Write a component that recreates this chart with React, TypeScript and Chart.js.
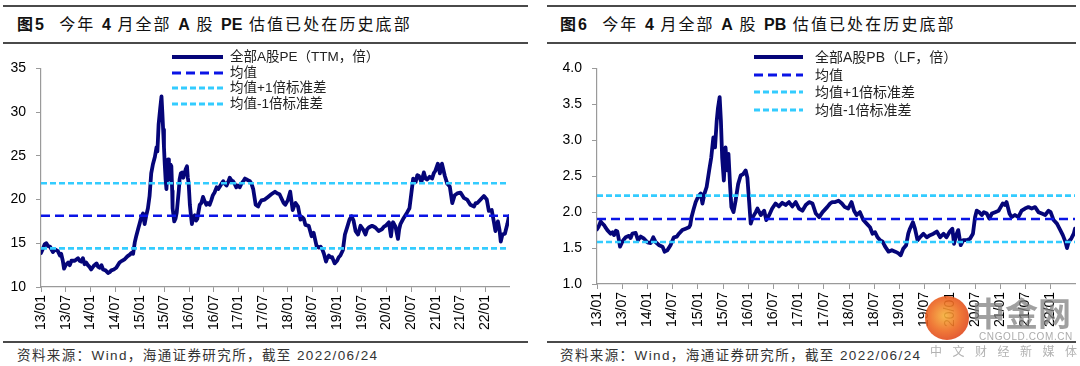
import React, { useEffect, useRef } from "react";
import { Chart, registerables } from "chart.js";

Chart.register(...registerables);

// ---------- DATA ----------
// x values are months since 2013/01
const xTickMonths = [0, 6, 12, 18, 24, 30, 36, 42, 48, 54, 60, 66, 72, 78, 84, 90, 96, 102, 108];
const xTickLabels = [
  "13/01", "13/07", "14/01", "14/07", "15/01", "15/07", "16/01", "16/07", "17/01", "17/07",
  "18/01", "18/07", "19/01", "19/07", "20/01", "20/07", "21/01", "21/07", "22/01",
];
const lastMonth = 113.8; // 2022/06/24

const peTicks = [10, 15, 20, 25, 30, 35];
const pbTicks = [1.0, 1.5, 2.0, 2.5, 3.0, 3.5, 4.0];

const peMean = 18.15;
const peUpper = 21.86;
const peLower = 14.42;

const pbMean = 1.905;
const pbUpper = 2.23;
const pbLower = 1.585;

// [month, PE(TTM)]
const pePoints: [number, number][] = [
  [0.0, 13.9], [0.5, 14.4], [0.9, 14.9], [1.3, 15.0], [1.7, 14.7], [2.2, 14.6], [2.9, 14.0], [3.4, 14.3],
  [4.1, 14.1], [4.6, 13.6], [4.9, 13.8], [5.3, 13.0], [5.6, 12.1], [6.0, 12.5], [6.6, 12.8], [7.0, 12.5],
  [7.4, 13.0], [8.2, 13.0], [9.0, 13.3], [9.4, 13.0], [9.8, 12.9], [10.2, 13.3], [10.6, 12.6], [11.0, 12.8],
  [11.4, 12.5], [11.8, 12.3], [12.2, 12.0], [12.8, 12.4], [13.5, 12.7], [13.9, 12.3], [14.3, 12.2], [14.7, 12.5],
  [15.1, 12.0], [15.7, 11.9], [16.3, 11.6], [16.7, 11.7], [17.1, 11.9], [17.7, 12.0], [18.3, 12.2], [19.1, 12.8],
  [19.7, 13.0], [20.4, 13.2], [21.0, 13.5], [21.6, 13.7], [22.0, 13.9], [22.4, 13.8], [22.8, 15.1], [23.2, 15.9],
  [23.6, 16.6], [24.0, 17.3], [24.4, 18.0], [24.8, 18.4], [25.2, 17.2], [25.6, 18.2], [26.0, 19.0], [26.4, 20.4],
  [26.8, 23.0], [27.2, 24.0], [27.7, 24.9], [28.1, 26.0], [28.3, 25.5], [28.6, 28.6], [29.0, 30.5], [29.3, 31.8],
  [29.5, 30.0], [29.7, 28.0], [29.9, 26.0], [30.1, 24.0], [30.3, 22.3], [30.5, 21.2], [30.7, 23.0], [30.9, 24.6],
  [31.1, 22.5], [31.3, 22.3], [31.5, 24.0], [31.7, 23.8], [31.9, 21.0], [32.0, 19.0], [32.4, 17.5], [32.7, 17.8],
  [33.0, 18.5], [33.2, 19.5], [33.5, 21.0], [33.7, 22.3], [34.0, 23.0], [34.3, 23.1], [34.6, 22.5], [34.9, 23.0],
  [35.2, 23.5], [35.5, 23.8], [35.7, 22.5], [35.9, 21.9], [36.2, 19.4], [36.5, 18.0], [36.7, 17.2], [37.0, 18.0],
  [37.4, 18.2], [37.7, 17.6], [38.0, 17.8], [38.3, 18.6], [38.6, 19.4], [39.0, 19.6], [39.4, 20.3], [39.8, 19.8],
  [40.2, 19.4], [40.6, 19.6], [41.0, 19.4], [41.4, 19.9], [41.8, 20.5], [42.2, 20.8], [42.7, 21.4], [43.1, 21.2],
  [43.5, 21.5], [43.9, 21.8], [44.3, 22.1], [44.7, 21.8], [45.1, 21.6], [45.5, 22.0], [45.9, 22.5], [46.3, 22.2],
  [46.7, 22.1], [47.1, 21.8], [47.5, 21.4], [47.9, 21.6], [48.3, 21.4], [48.7, 21.8], [49.2, 22.1], [49.6, 22.4],
  [50.0, 22.3], [50.4, 22.2], [50.8, 22.1], [51.2, 21.8], [51.6, 21.2], [52.0, 20.0], [52.2, 19.4], [52.8, 19.2],
  [53.2, 19.6], [53.6, 19.9], [54.4, 20.0], [55.2, 20.3], [56.0, 20.6], [56.9, 20.9], [57.5, 20.7], [58.0, 20.6],
  [58.6, 20.0], [59.0, 19.6], [59.4, 19.4], [60.0, 19.9], [60.6, 20.9], [61.2, 18.8], [61.5, 19.2], [61.9, 19.6],
  [62.5, 19.2], [63.1, 17.7], [63.5, 18.0], [63.9, 17.8], [64.3, 17.1], [65.1, 17.0], [65.8, 15.8], [66.3, 16.2],
  [67.0, 14.7], [67.6, 14.5], [68.0, 14.6], [68.4, 14.3], [68.8, 13.8], [69.3, 12.9], [69.6, 13.3], [70.0, 13.6],
  [70.4, 13.4], [70.8, 13.4], [71.4, 12.7], [72.0, 13.0], [72.4, 13.4], [72.8, 13.6], [73.4, 14.2], [73.9, 16.0],
  [74.5, 16.9], [75.0, 17.7], [75.5, 18.1], [76.0, 17.6], [76.5, 16.4], [77.1, 16.0], [77.7, 17.0], [78.3, 16.6],
  [78.9, 16.0], [79.3, 16.6], [79.7, 16.8], [80.5, 17.0], [81.3, 16.8], [82.1, 16.4], [82.9, 16.6], [83.4, 16.9],
  [83.8, 17.0], [84.6, 17.4], [85.1, 15.8], [85.4, 17.0], [85.6, 17.4], [86.2, 16.9], [86.8, 15.5], [87.1, 16.6],
  [87.4, 17.2], [88.2, 17.9], [89.0, 18.5], [89.6, 19.0], [90.1, 20.9], [90.5, 22.4], [91.1, 22.0], [91.5, 22.8],
  [91.9, 22.7], [92.5, 22.0], [93.1, 23.1], [93.5, 22.4], [93.9, 22.3], [94.5, 22.6], [95.1, 22.4], [95.5, 23.0],
  [95.9, 23.3], [96.5, 24.1], [97.0, 23.0], [97.5, 24.1], [97.8, 23.5], [98.2, 22.7], [98.8, 21.8], [99.4, 21.5],
  [100.0, 19.6], [100.6, 20.5], [101.2, 20.7], [102.0, 20.8], [102.8, 20.2], [103.6, 20.0], [104.4, 19.4], [105.3, 19.2],
  [105.7, 19.6], [106.1, 19.6], [106.9, 20.0], [107.7, 20.4], [108.4, 20.0], [108.9, 18.7], [109.6, 18.8], [110.1, 17.5],
  [110.5, 16.4], [111.1, 17.5], [111.5, 16.5], [111.8, 15.2], [112.2, 16.0], [112.8, 16.1], [113.4, 17.2], [113.8, 18.1],
];

// [month, PB(LF)]
const pbPoints: [number, number][] = [
  [0.0, 1.76], [0.4, 1.8], [0.87, 1.87], [1.3, 1.84], [1.67, 1.82], [2.1, 1.78], [2.46, 1.75], [3.25, 1.7],
  [3.7, 1.72], [4.05, 1.68], [4.5, 1.74], [4.84, 1.73], [5.2, 1.62], [5.48, 1.52], [6.03, 1.59], [6.4, 1.62],
  [6.83, 1.65], [7.62, 1.67], [8.0, 1.64], [8.41, 1.7], [9.21, 1.71], [9.76, 1.61], [10.4, 1.66], [11.2, 1.63],
  [12.0, 1.58], [12.8, 1.57], [13.4, 1.65], [14.0, 1.58], [14.8, 1.54], [15.6, 1.52], [16.1, 1.45], [16.75, 1.47],
  [17.5, 1.54], [18.3, 1.65], [19.0, 1.66], [19.5, 1.7], [20.3, 1.75], [21.1, 1.77], [21.9, 1.79], [22.2, 1.82],
  [22.5, 1.93], [23.0, 2.04], [23.5, 2.14], [24.05, 2.21], [24.4, 2.24], [24.7, 2.26], [25.1, 2.12], [25.6, 2.26],
  [26.1, 2.35], [26.7, 2.58], [27.2, 2.76], [27.7, 3.04], [28.1, 2.9], [28.5, 3.27], [28.8, 3.45], [29.2, 3.6],
  [29.5, 3.27], [29.8, 2.76], [30.2, 2.44], [30.6, 2.9], [31.0, 2.58], [31.3, 2.81], [31.7, 2.35], [32.0, 2.07],
  [32.5, 2.0], [33.0, 2.16], [33.6, 2.39], [34.2, 2.51], [34.8, 2.53], [35.4, 2.58], [35.8, 2.48], [36.2, 2.16],
  [36.6, 1.84], [37.1, 1.93], [37.8, 2.0], [38.2, 2.05], [39.0, 1.96], [39.8, 2.02], [40.3, 1.89], [41.0, 1.96],
  [41.7, 2.05], [42.5, 2.12], [43.3, 2.08], [44.1, 2.13], [44.9, 2.1], [45.7, 2.14], [46.5, 2.08], [47.3, 2.14],
  [48.1, 2.05], [48.9, 2.02], [49.7, 2.1], [50.5, 2.14], [51.3, 2.12], [52.1, 1.98], [52.9, 1.93], [53.7, 2.0],
  [54.8, 2.07], [55.5, 2.12], [56.0, 2.14], [56.7, 2.14], [57.5, 2.16], [58.3, 2.12], [59.0, 2.07], [59.8, 2.05],
  [60.6, 2.14], [61.2, 2.02], [61.8, 1.96], [62.6, 2.0], [63.4, 1.89], [64.2, 1.84], [65.0, 1.79], [65.6, 1.7],
  [66.2, 1.72], [66.8, 1.65], [67.4, 1.61], [68.0, 1.59], [68.6, 1.52], [69.4, 1.45], [70.2, 1.47], [71.0, 1.45],
  [71.7, 1.43], [72.3, 1.4], [72.9, 1.49], [73.6, 1.54], [74.1, 1.7], [74.5, 1.77], [75.2, 1.86], [75.7, 1.77],
  [76.3, 1.61], [76.9, 1.65], [77.7, 1.7], [78.5, 1.65], [79.3, 1.68], [80.1, 1.7], [80.9, 1.73], [81.7, 1.65],
  [82.5, 1.7], [83.2, 1.65], [84.0, 1.73], [84.6, 1.77], [85.0, 1.56], [85.5, 1.68], [86.0, 1.75], [86.6, 1.54],
  [87.2, 1.61], [88.0, 1.61], [88.8, 1.63], [89.5, 1.7], [90.0, 1.93], [90.4, 2.02], [91.0, 2.0], [91.6, 1.96],
  [92.1, 2.0], [92.8, 1.98], [93.4, 1.91], [94.0, 1.98], [94.8, 2.0], [95.6, 2.02], [96.1, 2.07], [96.6, 2.12],
  [97.1, 2.1], [97.5, 2.14], [98.2, 1.98], [98.7, 1.93], [99.5, 1.96], [100.3, 1.93], [101.1, 2.02], [101.9, 2.05],
  [102.7, 2.07], [103.5, 2.05], [104.3, 2.07], [105.1, 2.0], [105.9, 1.98], [106.7, 1.96], [107.5, 2.02], [108.0, 2.0],
  [108.7, 1.89], [109.5, 1.84], [110.3, 1.75], [110.9, 1.68], [111.5, 1.59], [111.9, 1.5], [112.3, 1.59], [112.9, 1.63],
  [113.5, 1.7], [113.8, 1.77],
];

const peLegendLabels = ["全部A股PE（TTM，倍）", "均值", "均值+1倍标准差", "均值-1倍标准差"];
const pbLegendLabels = ["全部A股PB（LF，倍）", "均值", "均值+1倍标准差", "均值-1倍标准差"];

const peTitle = ["图5", "今年", "4", "月全部", "A", "股", "PE", "估值已处在历史底部"];
const pbTitle = ["图6", "今年", "4", "月全部", "A", "股", "PB", "估值已处在历史底部"];
const sourceText = "资料来源：Wind，海通证券研究所，截至 2022/06/24";

const watermarkName = "中金网";
const watermarkUrl = "CNGOLD.COM.CN";
const watermarkSlogan = "中文财经新媒体";

// ---------- STYLE ----------
const MAIN_COLOR = "#050579";
const MEAN_COLOR = "#0A14E6";
const SD_COLOR = "#33CCFF";
const AXIS_COLOR = "#9a9a9a";
const LATIN = "'Liberation Sans', Arial, 'Noto Sans CJK SC', sans-serif";
const CJK = "'Liberation Sans', 'Noto Sans CJK SC', sans-serif";

type ChartProps = {
  points: [number, number][];
  mean: number;
  upper: number;
  lower: number;
  yTicks: number[];
  decimals: number;
  left: number;
  top: number;
  width: number;
  height: number;
  yAxisWidth: number;
  xAxisHeight: number;
  padTop: number;
  padRight: number;
  yPad: number;
};

function ValuationChart(p: ChartProps) {
  const ref = useRef<HTMLCanvasElement | null>(null);
  useEffect(() => {
    if (!ref.current) return;
    const hline = (v: number) => [
      { x: 0, y: v },
      { x: lastMonth, y: v },
    ];
    const chart = new Chart(ref.current, {
      type: "line",
      data: {
        datasets: [
          {
            data: p.points.map(([x, y]) => ({ x, y })),
            borderColor: MAIN_COLOR,
            borderWidth: 3.8,
            borderJoinStyle: "round",
            borderCapStyle: "round",
            pointRadius: 0,
            tension: 0,
            order: 3,
          },
          {
            data: hline(p.mean),
            borderColor: MEAN_COLOR,
            borderWidth: 2.6,
            borderDash: [9, 5],
            pointRadius: 0,
            order: 2,
          },
          {
            data: hline(p.upper),
            borderColor: SD_COLOR,
            borderWidth: 2.6,
            borderDash: [6, 3],
            pointRadius: 0,
            order: 1,
          },
          {
            data: hline(p.lower),
            borderColor: SD_COLOR,
            borderWidth: 2.6,
            borderDash: [6, 3],
            pointRadius: 0,
            order: 1,
          },
        ],
      },
      options: {
        animation: false,
        responsive: false,
        maintainAspectRatio: false,
        layout: { padding: { top: p.padTop, right: p.padRight, left: 0, bottom: 0 } },
        plugins: { legend: { display: false }, tooltip: { enabled: false } },
        scales: {
          x: {
            type: "linear",
            min: 0,
            max: lastMonth,
            afterBuildTicks: (s: any) => {
              s.ticks = xTickMonths.map((v) => ({ value: v }));
            },
            afterFit: (s: any) => {
              s.height = p.xAxisHeight;
            },
            ticks: {
              autoSkip: false,
              maxRotation: 90,
              minRotation: 90,
              padding: 3,
              color: "#000",
              font: { family: LATIN, size: 14 },
              callback: (v: any) => {
                const i = xTickMonths.indexOf(Number(v));
                return i >= 0 ? xTickLabels[i] : "";
              },
            },
            grid: { drawOnChartArea: false, drawTicks: true, tickLength: 5, color: AXIS_COLOR },
            border: { color: AXIS_COLOR, width: 1.2 },
          },
          y: {
            type: "linear",
            min: p.yTicks[0],
            max: p.yTicks[p.yTicks.length - 1],
            afterBuildTicks: (s: any) => {
              s.ticks = p.yTicks.map((v) => ({ value: v }));
            },
            afterFit: (s: any) => {
              s.width = p.yAxisWidth;
            },
            ticks: {
              padding: p.yPad,
              color: "#000",
              font: { family: LATIN, size: 14 },
              callback: (v: any) => Number(v).toFixed(p.decimals),
            },
            grid: { drawOnChartArea: false, drawTicks: true, tickLength: 5, color: AXIS_COLOR },
            border: { color: AXIS_COLOR, width: 1.2 },
          },
        },
      },
    } as any);
    return () => chart.destroy();
  }, []);
  return (
    <canvas
      ref={ref}
      width={p.width}
      height={p.height}
      style={{ position: "absolute", left: p.left, top: p.top, width: p.width, height: p.height }}
    />
  );
}

type LegendProps = {
  labels: string[];
  lineX: number;
  lineW: number;
  textX: number;
  rows: number[];
  fontSize: number;
};

function Legend({ labels, lineX, lineW, textX, rows, fontSize }: LegendProps) {
  const styles = [
    { color: MAIN_COLOR, w: 3.8, dash: "" },
    { color: MEAN_COLOR, w: 2.8, dash: "9 5" },
    { color: SD_COLOR, w: 2.8, dash: "6 3" },
    { color: SD_COLOR, w: 2.8, dash: "6 3" },
  ];
  return (
    <>
      {labels.map((lab, i) => (
        <React.Fragment key={i}>
          <svg
            width={lineW}
            height={8}
            style={{ position: "absolute", left: lineX, top: rows[i] - 4 }}
          >
            <line
              x1={0}
              y1={4}
              x2={lineW}
              y2={4}
              stroke={styles[i].color}
              strokeWidth={styles[i].w}
              strokeDasharray={styles[i].dash || undefined}
            />
          </svg>
          <div
            style={{
              position: "absolute",
              left: textX,
              top: rows[i] - 10,
              height: 20,
              lineHeight: "20px",
              fontFamily: CJK,
              fontSize,
              color: "#222",
              whiteSpace: "nowrap",
            }}
          >
            {lab}
          </div>
        </React.Fragment>
      ))}
    </>
  );
}

function Title({ parts, left }: { parts: string[]; left: number }) {
  const bold = (t: string) => (
    <span style={{ fontFamily: LATIN, fontWeight: 700, letterSpacing: 0 }}>{t}</span>
  );
  return (
    <div
      style={{
        position: "absolute",
        left,
        top: 13,
        height: 24,
        lineHeight: "24px",
        fontFamily: CJK,
        fontSize: 16,
        letterSpacing: 2.1,
        color: "#111",
        whiteSpace: "nowrap",
      }}
    >
      <span style={{ fontWeight: 700 }}>{parts[0]}</span>
      {"\u00a0\u00a0"}
      {parts[1]} {bold(parts[2])} {parts[3]} {bold(parts[4])} {parts[5]} {bold(parts[6])} {parts[7]}
    </div>
  );
}

function Rule({ x1, x2, y }: { x1: number; x2: number; y: number }) {
  return (
    <div style={{ position: "absolute", left: x1, top: y, width: x2 - x1, height: 1.5, background: "#4a4a4a" }} />
  );
}

function Source({ left }: { left: number }) {
  return (
    <div
      style={{
        position: "absolute",
        left,
        top: 347,
        height: 18,
        lineHeight: "18px",
        fontFamily: CJK,
        fontSize: 13.5,
        letterSpacing: 1.4,
        color: "#333",
        whiteSpace: "nowrap",
      }}
    >
      {sourceText}
    </div>
  );
}

export default function App() {
  return (
    <div
      style={{
        position: "fixed",
        left: 0,
        top: 0,
        width: 1080,
        height: 366,
        background: "#fff",
        overflow: "hidden",
      }}
    >
      {/* left panel */}
      <Rule x1={3} x2={528} y={5} />
      <Title parts={peTitle} left={17} />
      <Rule x1={3} x2={528} y={42} />
      <ValuationChart
        points={pePoints}
        mean={peMean}
        upper={peUpper}
        lower={peLower}
        yTicks={peTicks}
        decimals={0}
        left={0}
        top={50}
        width={530}
        height={290}
        yAxisWidth={41}
        xAxisHeight={53}
        padTop={13}
        padRight={21}
        yPad={10}
      />
      <Legend labels={peLegendLabels} lineX={172} lineW={51} textX={230} rows={[57, 72.5, 88, 103.5]} fontSize={13.5} />
      <Rule x1={3} x2={528} y={341} />
      <Source left={17} />

      {/* right panel */}
      <Rule x1={547} x2={1076} y={5} />
      <Title parts={pbTitle} left={560} />
      <Rule x1={547} x2={1076} y={42} />
      <ValuationChart
        points={pbPoints}
        mean={pbMean}
        upper={pbUpper}
        lower={pbLower}
        yTicks={pbTicks}
        decimals={1}
        left={545}
        top={50}
        width={535}
        height={290}
        yAxisWidth={52}
        xAxisHeight={56}
        padTop={17}
        padRight={5}
        yPad={10}
      />
      <Legend labels={pbLegendLabels} lineX={754} lineW={49} textX={815} rows={[57, 74.5, 92, 110]} fontSize={14} />
      <Rule x1={547} x2={1076} y={341} />
      <Source left={560} />

      {/* watermark */}
      <div
        style={{
          position: "absolute",
          left: 925,
          top: 296,
          width: 44,
          height: 44,
          borderRadius: 22,
          background: "radial-gradient(circle at 45% 45%, #f6b23a 0%, #ee6a22 45%, #d42a1a 100%)",
          opacity: 0.9,
        }}
      />
      <div
        style={{
          position: "absolute",
          left: 972,
          top: 292,
          fontFamily: "'Noto Sans CJK SC', sans-serif",
          fontWeight: 700,
          fontSize: 33,
          lineHeight: "40px",
          color: "rgba(128,128,128,0.75)",
          whiteSpace: "nowrap",
        }}
      >
        {watermarkName}
      </div>
      <div
        style={{
          position: "absolute",
          left: 979,
          top: 331,
          fontFamily: LATIN,
          fontSize: 10,
          lineHeight: "12px",
          letterSpacing: 0.6,
          color: "rgba(150,150,150,0.8)",
          whiteSpace: "nowrap",
        }}
      >
        {watermarkUrl}
      </div>
      <div
        style={{
          position: "absolute",
          left: 930,
          top: 344,
          fontFamily: "'Noto Sans CJK SC', sans-serif",
          fontSize: 12,
          lineHeight: "14px",
          letterSpacing: 10.5,
          color: "rgba(170,170,170,0.9)",
          whiteSpace: "nowrap",
        }}
      >
        {watermarkSlogan}
      </div>
    </div>
  );
}
